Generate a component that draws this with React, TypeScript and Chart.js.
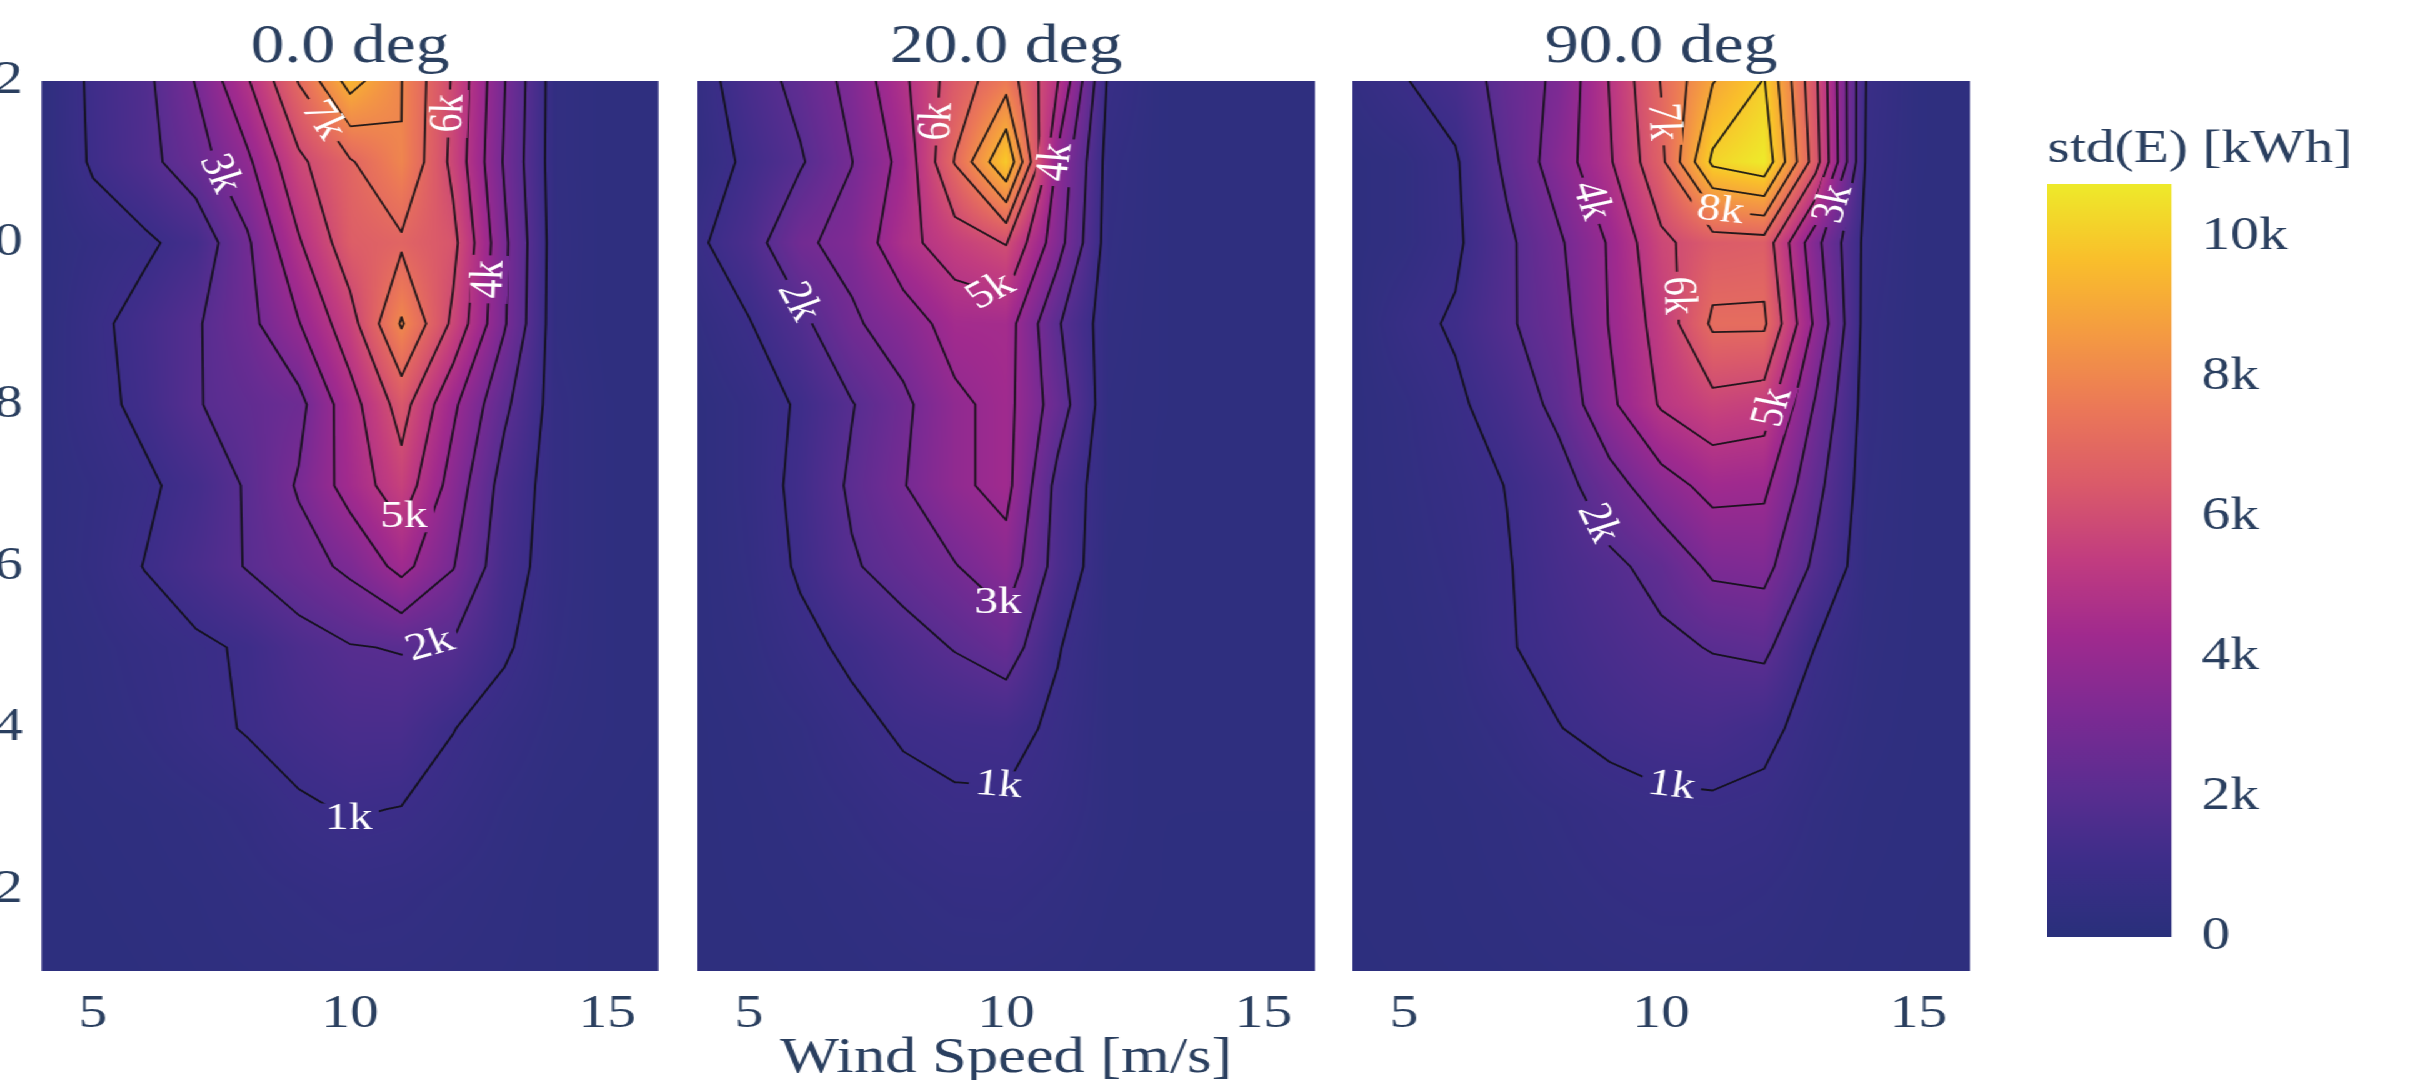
import React, { useEffect, useRef } from "react";
import { Chart, registerables } from "chart.js";

Chart.register(...registerables);

// ---------------- data ----------------
const WIND_SPEED = [4, 5, 6, 7, 8, 9, 10, 11, 12, 13, 14, 15, 16]; // x grid [m/s]
const Y_GRID = [1, 2, 3, 4, 5, 6, 7, 8, 9, 10, 11, 12];
const X_TICKS = [5, 10, 15];
const Y_TICKS = [2, 4, 6, 8, 10, 12];
const LEVELS_K = [1, 2, 3, 4, 5, 6, 7, 8, 9, 10];
const COLORBAR_TICKS_K = [0, 2, 4, 6, 8, 10];
const Z_MIN_K = 0;
const Z_MAX_K = 10.75;
const PANEL_TITLES = ["0.0 deg", "20.0 deg", "90.0 deg"];
const X_TITLE = "Wind Speed [m/s]";
const COLORBAR_TITLE = "std(E) [kWh]";

// std(E) in thousands of kWh, rows from y=1 (first) to y=12 (last), columns = WIND_SPEED
const STD_0DEG = [
  [0.2, 0.2, 0.25, 0.3, 0.35, 0.4, 0.45, 0.45, 0.4, 0.35, 0.3, 0.25, 0.25],
  [0.2, 0.25, 0.3, 0.35, 0.45, 0.55, 0.65, 0.6, 0.5, 0.4, 0.3, 0.25, 0.25],
  [0.25, 0.3, 0.35, 0.45, 0.6, 0.9, 1.05, 0.98, 0.75, 0.5, 0.35, 0.3, 0.25],
  [0.3, 0.4, 0.55, 0.8, 1.05, 1.3, 1.5, 1.5, 1.02, 0.7, 0.45, 0.35, 0.3],
  [0.3, 0.45, 0.65, 0.85, 1.1, 1.6, 1.95, 2.05, 1.9, 1.1, 0.55, 0.35, 0.3],
  [0.35, 0.6, 1.02, 1.5, 2.05, 2.6, 3.2, 4.3, 3.05, 1.4, 0.6, 0.35, 0.3],
  [0.35, 0.55, 0.85, 1.3, 2.1, 3.1, 4.4, 5.6, 3.6, 1.6, 0.6, 0.35, 0.3],
  [0.35, 0.75, 1.2, 1.95, 2.3, 2.7, 4.6, 6.4, 4.2, 2.2, 0.6, 0.35, 0.3],
  [0.3, 0.8, 1.3, 1.9, 2.7, 3.95, 5.6, 8.1, 5.8, 3.1, 0.5, 0.3, 0.3],
  [0.3, 0.6, 0.85, 1.33, 2.85, 4.9, 6.6, 6.85, 6.3, 3.2, 0.53, 0.3, 0.3],
  [0.3, 1.1, 1.7, 2.55, 3.8, 5.8, 6.9, 7.98, 5.75, 2.9, 0.5, 0.3, 0.3],
  [0.3, 1.15, 1.75, 3.05, 4.9, 7.05, 9.4, 8.02, 5.9, 3.05, 0.5, 0.3, 0.3],
];

const STD_20DEG = [
  [0.25, 0.25, 0.28, 0.32, 0.38, 0.42, 0.42, 0.38, 0.3, 0.28, 0.27, 0.27, 0.27],
  [0.25, 0.28, 0.32, 0.4, 0.5, 0.6, 0.62, 0.5, 0.35, 0.3, 0.28, 0.28, 0.28],
  [0.25, 0.3, 0.4, 0.55, 0.75, 0.9, 0.9, 0.7, 0.4, 0.3, 0.3, 0.3, 0.3],
  [0.25, 0.35, 0.5, 0.8, 1.1, 1.2, 1.25, 0.85, 0.4, 0.3, 0.3, 0.3, 0.3],
  [0.3, 0.45, 0.8, 1.15, 1.6, 2.05, 2.5, 1.05, 0.4, 0.3, 0.3, 0.3, 0.3],
  [0.3, 0.55, 1.1, 1.9, 2.4, 2.95, 3.6, 1.6, 0.4, 0.33, 0.3, 0.3, 0.3],
  [0.3, 0.6, 1.2, 2.15, 2.95, 3.8, 4.3, 1.7, 0.45, 0.33, 0.3, 0.3, 0.3],
  [0.3, 0.6, 1.1, 1.95, 2.8, 3.8, 4.3, 2.5, 0.45, 0.35, 0.3, 0.3, 0.3],
  [0.5, 0.95, 1.75, 2.85, 3.5, 4.4, 4.45, 2.1, 0.5, 0.35, 0.3, 0.3, 0.3],
  [0.85, 1.55, 2.84, 3.3, 4.7, 5.5, 6.05, 3.4, 0.55, 0.35, 0.3, 0.3, 0.3],
  [0.5, 1.18, 1.9, 2.98, 4.3, 7.05, 9.95, 3.8, 0.6, 0.35, 0.3, 0.3, 0.3],
  [0.6, 1.5, 2.3, 3.3, 4.8, 6.5, 7.6, 5.05, 0.8, 0.35, 0.3, 0.3, 0.3],
];

const STD_90DEG = [
  [0.24, 0.25, 0.27, 0.3, 0.35, 0.4, 0.44, 0.44, 0.4, 0.33, 0.28, 0.26, 0.25],
  [0.25, 0.26, 0.3, 0.36, 0.45, 0.55, 0.62, 0.62, 0.55, 0.4, 0.3, 0.27, 0.26],
  [0.25, 0.28, 0.32, 0.42, 0.55, 0.72, 0.85, 0.88, 0.8, 0.5, 0.33, 0.28, 0.27],
  [0.27, 0.3, 0.42, 0.62, 0.98, 1.2, 1.35, 1.4, 1.2, 0.7, 0.4, 0.3, 0.3],
  [0.28, 0.35, 0.5, 0.95, 1.2, 1.5, 1.8, 2.05, 2.2, 0.98, 0.45, 0.32, 0.3],
  [0.3, 0.4, 0.6, 0.95, 1.4, 1.8, 2.3, 3.2, 3.3, 1.8, 0.5, 0.33, 0.3],
  [0.3, 0.45, 0.7, 1.02, 1.6, 2.6, 3.6, 4.3, 4.2, 2.3, 0.55, 0.33, 0.3],
  [0.3, 0.5, 0.85, 1.4, 2.25, 3.8, 5.1, 5.7, 5.5, 2.9, 0.6, 0.33, 0.3],
  [0.3, 0.75, 1.1, 1.85, 2.6, 4.05, 5.4, 7.15, 7.15, 3.8, 0.6, 0.33, 0.3],
  [0.3, 0.45, 0.85, 1.8, 2.85, 4.1, 5.8, 6.5, 6.6, 3.3, 0.7, 0.33, 0.3],
  [0.3, 0.45, 0.9, 2.2, 3.47, 4.9, 6.76, 10.2, 10.75, 6.45, 0.8, 0.35, 0.3],
  [0.55, 0.95, 1.4, 2.4, 3.2, 5.05, 7.05, 8.95, 10.05, 6.2, 0.9, 0.35, 0.3],
];

// contour label anchors (level in k, data position)
const LABELS_0DEG = [
  { level: 1, x: 10.0, y: 2.9 },
  { level: 2, x: 11.55, y: 5.05 },
  { level: 3, x: 7.7, y: 10.9 },
  { level: 4, x: 12.6, y: 9.55 },
  { level: 5, x: 11.1, y: 6.6 },
  { level: 6, x: 11.9, y: 11.6 },
  { level: 7, x: 9.6, y: 11.55 },
];
const LABELS_20DEG = [
  { level: 1, x: 9.8, y: 3.0 },
  { level: 2, x: 6.1, y: 9.3 },
  { level: 3, x: 9.85, y: 5.55 },
  { level: 4, x: 10.9, y: 11.0 },
  { level: 5, x: 9.7, y: 9.4 },
  { level: 6, x: 8.6, y: 11.5 },
];
const LABELS_90DEG = [
  { level: 1, x: 10.2, y: 3.3 },
  { level: 2, x: 8.6, y: 6.5 },
  { level: 3, x: 13.2, y: 10.5 },
  { level: 4, x: 8.5, y: 10.5 },
  { level: 5, x: 11.9, y: 8.0 },
  { level: 6, x: 10.6, y: 9.35 },
  { level: 7, x: 10.05, y: 11.5 },
  { level: 8, x: 11.15, y: 10.4 },
];

const PANEL_GRIDS = [STD_0DEG, STD_20DEG, STD_90DEG];
const PANEL_LABELS = [LABELS_0DEG, LABELS_20DEG, LABELS_90DEG];

// ---------------- style ----------------
const COLORSCALE: [number, string][] = [
  [0.0, "#29307b"],
  [0.1, "#3d2d89"],
  [0.2, "#5c2d91"],
  [0.3, "#7d2a93"],
  [0.4, "#a02a8e"],
  [0.5, "#c13c80"],
  [0.6, "#da5a6a"],
  [0.7, "#eb7758"],
  [0.8, "#f49a42"],
  [0.9, "#f9bf2b"],
  [1.0, "#eeea2a"],
];
const FONT = "'Liberation Serif', 'Times New Roman', Times, serif";
const TEXT = "#2a3f5f";
const STRETCH = 1.25;
const BASE_W = 2420 / STRETCH;
const CANVAS_H = 1100;
const PANEL_W = 494;
const PANEL_LEFTS = [33.2, 557.6, 1081.6];
const SIDE_PAD = 20;
const X_AXIS_H = CANVAS_H - 971;
const CB_LEFT = 1638.4;
const CB_W = 99.2;
const CB_CANVAS_W = 300;

function hexToRgb(h: string) {
  const n = parseInt(h.slice(1), 16);
  return [(n >> 16) & 255, (n >> 8) & 255, n & 255];
}

function buildLut(n: number) {
  const stops = COLORSCALE.map(([t, c]) => [t, hexToRgb(c)] as [number, number[]]);
  const lut = new Uint8ClampedArray(n * 3);
  for (let k = 0; k < n; k++) {
    const t = k / (n - 1);
    let s = 0;
    while (s < stops.length - 2 && t > stops[s + 1][0]) s++;
    const [t0, c0] = stops[s];
    const [t1, c1] = stops[s + 1];
    const f = Math.min(1, Math.max(0, (t - t0) / (t1 - t0)));
    for (let q = 0; q < 3; q++) lut[k * 3 + q] = c0[q] + (c1[q] - c0[q]) * f;
  }
  return lut;
}
const LUT_N = 1024;
const LUT = buildLut(LUT_N);

function locate(arr: number[], v: number) {
  let i = 0;
  while (i < arr.length - 2 && v > arr[i + 1]) i++;
  const t = (v - arr[i]) / (arr[i + 1] - arr[i]);
  return [i, Math.min(1, Math.max(0, t))];
}

type Seg = [number, number, number, number];

function contourSegments(z: (i: number, j: number) => number, level: number): Seg[] {
  const segs: Seg[] = [];
  const xs = WIND_SPEED;
  const ys = Y_GRID;
  for (let j = 0; j < ys.length - 1; j++) {
    for (let i = 0; i < xs.length - 1; i++) {
      const a = z(i, j), b = z(i + 1, j), c = z(i + 1, j + 1), d = z(i, j + 1);
      let code = 0;
      if (a > level) code |= 1;
      if (b > level) code |= 2;
      if (c > level) code |= 4;
      if (d > level) code |= 8;
      if (code === 0 || code === 15) continue;
      const x0 = xs[i], x1 = xs[i + 1], y0 = ys[j], y1 = ys[j + 1];
      const B = [x0 + ((level - a) / (b - a)) * (x1 - x0), y0];
      const R = [x1, y0 + ((level - b) / (c - b)) * (y1 - y0)];
      const T = [x0 + ((level - d) / (c - d)) * (x1 - x0), y1];
      const L = [x0, y0 + ((level - a) / (d - a)) * (y1 - y0)];
      const add = (p: number[], q: number[]) => segs.push([p[0], p[1], q[0], q[1]]);
      const center = (a + b + c + d) / 4;
      switch (code) {
        case 1: case 14: add(L, B); break;
        case 2: case 13: add(B, R); break;
        case 3: case 12: add(L, R); break;
        case 4: case 11: add(R, T); break;
        case 6: case 9: add(B, T); break;
        case 7: case 8: add(L, T); break;
        case 5:
          if (center > level) { add(L, T); add(B, R); } else { add(L, B); add(R, T); }
          break;
        case 10:
          if (center > level) { add(L, B); add(R, T); } else { add(B, R); add(L, T); }
          break;
      }
    }
  }
  return segs;
}

function makeHeatmapPlugin(idx: number) {
  return {
    id: "heatmapContour" + idx,
    beforeDatasetsDraw(chart: any) {
      const { ctx, chartArea: area } = chart;
      const sx = chart.scales.x;
      const sy = chart.scales.y;
      const pts = chart.data.datasets[0].data as any[];
      const nx = WIND_SPEED.length;
      const z = (i: number, j: number) => pts[j * nx + i].v;

      // smoothed heatmap
      const w = Math.ceil(area.right - area.left);
      const h = Math.ceil(area.bottom - area.top);
      const off = document.createElement("canvas");
      off.width = w;
      off.height = h;
      const octx = off.getContext("2d")!;
      const img = octx.createImageData(w, h);
      const colI = new Int32Array(w), colT = new Float32Array(w);
      for (let c = 0; c < w; c++) {
        const [i, t] = locate(WIND_SPEED, sx.getValueForPixel(area.left + c + 0.5));
        colI[c] = i; colT[c] = t;
      }
      const rowJ = new Int32Array(h), rowT = new Float32Array(h);
      for (let r = 0; r < h; r++) {
        const [j, t] = locate(Y_GRID, sy.getValueForPixel(area.top + r + 0.5));
        rowJ[r] = j; rowT[r] = t;
      }
      for (let r = 0; r < h; r++) {
        const j = rowJ[r], ty = rowT[r];
        for (let c = 0; c < w; c++) {
          const i = colI[c], tx = colT[c];
          const v0 = z(i, j) * (1 - tx) + z(i + 1, j) * tx;
          const v1 = z(i, j + 1) * (1 - tx) + z(i + 1, j + 1) * tx;
          const v = v0 * (1 - ty) + v1 * ty;
          let k = Math.round(((v - Z_MIN_K) / (Z_MAX_K - Z_MIN_K)) * (LUT_N - 1));
          k = Math.max(0, Math.min(LUT_N - 1, k));
          const o = (r * w + c) * 4;
          img.data[o] = LUT[k * 3];
          img.data[o + 1] = LUT[k * 3 + 1];
          img.data[o + 2] = LUT[k * 3 + 2];
          img.data[o + 3] = 255;
        }
      }
      octx.putImageData(img, 0, 0);

      ctx.save();
      ctx.beginPath();
      ctx.rect(area.left, area.top, area.right - area.left, area.bottom - area.top);
      ctx.clip();
      ctx.drawImage(off, area.left, area.top);

      // contour segments in pixel space
      const pix: Record<number, Seg[]> = {};
      for (const lv of LEVELS_K) {
        pix[lv] = contourSegments(z, lv).map(([x0, y0, x1, y1]) => [
          sx.getPixelForValue(x0), sy.getPixelForValue(y0),
          sx.getPixelForValue(x1), sy.getPixelForValue(y1),
        ] as Seg);
      }

      // label placement on the nearest contour segment, oriented along the local line
      const labelSize = 38;
      ctx.font = `${labelSize}px ${FONT}`;
      const placed: any[] = [];
      for (const lab of PANEL_LABELS[idx]) {
        const segs = pix[lab.level];
        if (!segs || !segs.length) continue;
        const ax = sx.getPixelForValue(lab.x), ay = sy.getPixelForValue(lab.y);
        let best: any = null;
        for (const [x0, y0, x1, y1] of segs) {
          const dx = x1 - x0, dy = y1 - y0;
          const len2 = dx * dx + dy * dy || 1;
          let t = ((ax - x0) * dx + (ay - y0) * dy) / len2;
          t = Math.max(0, Math.min(1, t));
          const px = x0 + t * dx, py = y0 + t * dy;
          const d = (px - ax) ** 2 + (py - ay) ** 2;
          if (!best || d < best.d) best = { d, px, py };
        }
        const text = `${lab.level}k`;
        const tw = ctx.measureText(text).width;
        const rad = tw / 2 + 12;
        let sdx = 0, sdy = 0;
        for (const [x0, y0, x1, y1] of segs) {
          const mx = (x0 + x1) / 2, my = (y0 + y1) / 2;
          if ((mx - best.px) ** 2 + (my - best.py) ** 2 > rad * rad) continue;
          let dx = x1 - x0, dy = y1 - y0;
          if (dx < 0 || (dx === 0 && dy < 0)) { dx = -dx; dy = -dy; }
          sdx += dx; sdy += dy;
        }
        let ang = sdx === 0 && sdy === 0 ? 0 : Math.atan2(sdy, sdx);
        if (ang > Math.PI / 2) ang -= Math.PI;
        if (ang <= -Math.PI / 2) ang += Math.PI;
        placed.push({ x: best.px, y: best.py, ang, text, hw: tw / 2 + 5, hh: labelSize * 0.4 });
      }

      // lines with gaps under labels
      ctx.save();
      ctx.beginPath();
      ctx.rect(area.left, area.top, area.right - area.left, area.bottom - area.top);
      for (const p of placed) {
        const cs = Math.cos(p.ang), sn = Math.sin(p.ang);
        const corners = [[-p.hw, -p.hh], [p.hw, -p.hh], [p.hw, p.hh], [-p.hw, p.hh]];
        corners.forEach(([u, v], n) => {
          const X = p.x + u * cs - v * sn, Y = p.y + u * sn + v * cs;
          if (n === 0) ctx.moveTo(X, Y); else ctx.lineTo(X, Y);
        });
        ctx.closePath();
      }
      ctx.clip("evenodd");
      ctx.strokeStyle = "rgba(15,15,20,0.9)";
      ctx.lineWidth = 1.8;
      ctx.lineJoin = "round";
      ctx.lineCap = "round";
      for (const lv of LEVELS_K) {
        ctx.beginPath();
        for (const [x0, y0, x1, y1] of pix[lv]) {
          ctx.moveTo(x0, y0);
          ctx.lineTo(x1, y1);
        }
        ctx.stroke();
      }
      ctx.restore();

      // labels
      ctx.fillStyle = "#ffffff";
      ctx.textAlign = "center";
      ctx.textBaseline = "middle";
      ctx.font = `${labelSize}px ${FONT}`;
      for (const p of placed) {
        ctx.save();
        ctx.translate(p.x, p.y);
        ctx.rotate(p.ang);
        ctx.fillText(p.text, 0, 0);
        ctx.restore();
      }
      ctx.restore();
    },
  };
}

const font = (size: number) => ({ family: FONT, size, weight: "normal" as any, lineHeight: 1.2 });

function makePanel(canvas: HTMLCanvasElement, idx: number) {
  const grid = PANEL_GRIDS[idx];
  const points: any[] = [];
  Y_GRID.forEach((y, j) => WIND_SPEED.forEach((x, i) => points.push({ x, y, v: grid[j][i] })));
  const first = idx === 0;
  const yAxis: any = {
    type: "linear",
    min: Y_GRID[0],
    max: Y_GRID[Y_GRID.length - 1],
    display: first,
    position: "left",
    grid: { display: false },
    border: { display: false },
    ticks: { font: font(46), color: TEXT, padding: 7, autoSkip: false, callback: (v: any) => String(v) },
    afterBuildTicks: (s: any) => { s.ticks = Y_TICKS.map((value) => ({ value })); },
  };
  if (first) yAxis.afterFit = (s: any) => { s.width = PANEL_LEFTS[0]; };
  const scales: any = {
    x: {
      type: "linear",
      min: WIND_SPEED[0],
      max: WIND_SPEED[WIND_SPEED.length - 1],
      position: "bottom",
      grid: { display: false },
      border: { display: false },
      ticks: { font: font(46), color: TEXT, padding: 8, maxRotation: 0, autoSkip: false, callback: (v: any) => String(v) },
      afterBuildTicks: (s: any) => { s.ticks = X_TICKS.map((value) => ({ value })); },
      afterFit: (s: any) => { s.height = X_AXIS_H; },
      title: { display: idx === 1, text: X_TITLE, color: TEXT, font: font(50), padding: { top: 0, bottom: 11 } },
    },
    y: yAxis,
  };
  if (first) {
    scales.y2 = {
      type: "linear",
      position: "right",
      display: true,
      grid: { display: false },
      border: { display: false },
      ticks: { display: false },
      afterFit: (s: any) => { s.width = PANEL_LEFTS[0]; },
    };
  }
  return new Chart(canvas, {
    type: "scatter",
    data: { datasets: [{ data: points, pointRadius: 0, pointHoverRadius: 0 }] },
    options: {
      responsive: false,
      animation: false,
      devicePixelRatio: 1,
      events: [],
      layout: { padding: first ? 0 : { left: SIDE_PAD, right: SIDE_PAD, top: 0, bottom: 0 } },
      plugins: {
        legend: { display: false },
        tooltip: { enabled: false },
        title: { display: true, text: PANEL_TITLES[idx], color: TEXT, font: font(54), padding: { top: 15, bottom: 1.2 } },
      },
      scales,
    } as any,
    plugins: [makeHeatmapPlugin(idx)],
  });
}

const colorbarPlugin = {
  id: "colorbarGradient",
  beforeDatasetsDraw(chart: any) {
    const { ctx, chartArea: a } = chart;
    const sy = chart.scales.y;
    const g = ctx.createLinearGradient(0, sy.getPixelForValue(Z_MIN_K), 0, sy.getPixelForValue(Z_MAX_K));
    COLORSCALE.forEach(([t, c]) => g.addColorStop(t, c));
    ctx.save();
    ctx.fillStyle = g;
    ctx.fillRect(a.left, a.top, a.right - a.left, a.bottom - a.top);
    ctx.restore();
  },
};

function makeColorbar(canvas: HTMLCanvasElement) {
  return new Chart(canvas, {
    type: "scatter",
    data: { datasets: [{ data: [], pointRadius: 0 }] },
    options: {
      responsive: false,
      animation: false,
      devicePixelRatio: 1,
      events: [],
      layout: { padding: { left: 0, right: 0, top: 0, bottom: CANVAS_H - 937 } },
      plugins: {
        legend: { display: false },
        tooltip: { enabled: false },
        title: { display: true, align: "start", text: COLORBAR_TITLE, color: TEXT, font: font(46), padding: { top: 122, bottom: 6.8 } },
      },
      scales: {
        x: { display: false, min: 0, max: 1 },
        y: {
          type: "linear",
          position: "right",
          min: Z_MIN_K,
          max: Z_MAX_K,
          grid: { display: false },
          border: { display: false },
          ticks: { font: font(46), color: TEXT, padding: 16, autoSkip: false, callback: (v: any) => (v === 0 ? "0" : `${v}k`) },
          afterBuildTicks: (s: any) => { s.ticks = COLORBAR_TICKS_K.map((value) => ({ value })); },
          afterFit: (s: any) => { s.width = CB_CANVAS_W - CB_W; },
        },
      },
    } as any,
    plugins: [colorbarPlugin],
  });
}

export default function App() {
  const r0 = useRef<HTMLCanvasElement>(null);
  const r1 = useRef<HTMLCanvasElement>(null);
  const r2 = useRef<HTMLCanvasElement>(null);
  const rcb = useRef<HTMLCanvasElement>(null);

  useEffect(() => {
    const charts = [
      makePanel(r0.current!, 0),
      makePanel(r1.current!, 1),
      makePanel(r2.current!, 2),
      makeColorbar(rcb.current!),
    ];
    return () => charts.forEach((c) => c.destroy());
  }, []);

  const w0 = Math.round(PANEL_LEFTS[0] * 2 + PANEL_W);
  const wp = PANEL_W + SIDE_PAD * 2;
  return (
    <div
      style={{
        position: "fixed",
        left: 0,
        top: 0,
        width: BASE_W,
        height: 1080,
        overflow: "hidden",
        background: "#ffffff",
        transform: `scaleX(${STRETCH})`,
        transformOrigin: "0 0",
      }}
    >
      <canvas ref={r0} width={w0} height={CANVAS_H} style={{ position: "absolute", left: 0, top: 0 }} />
      <canvas ref={r1} width={wp} height={CANVAS_H} style={{ position: "absolute", left: PANEL_LEFTS[1] - SIDE_PAD, top: 0 }} />
      <canvas ref={r2} width={wp} height={CANVAS_H} style={{ position: "absolute", left: PANEL_LEFTS[2] - SIDE_PAD, top: 0 }} />
      <canvas ref={rcb} width={CB_CANVAS_W} height={CANVAS_H} style={{ position: "absolute", left: CB_LEFT, top: 0 }} />
    </div>
  );
}
